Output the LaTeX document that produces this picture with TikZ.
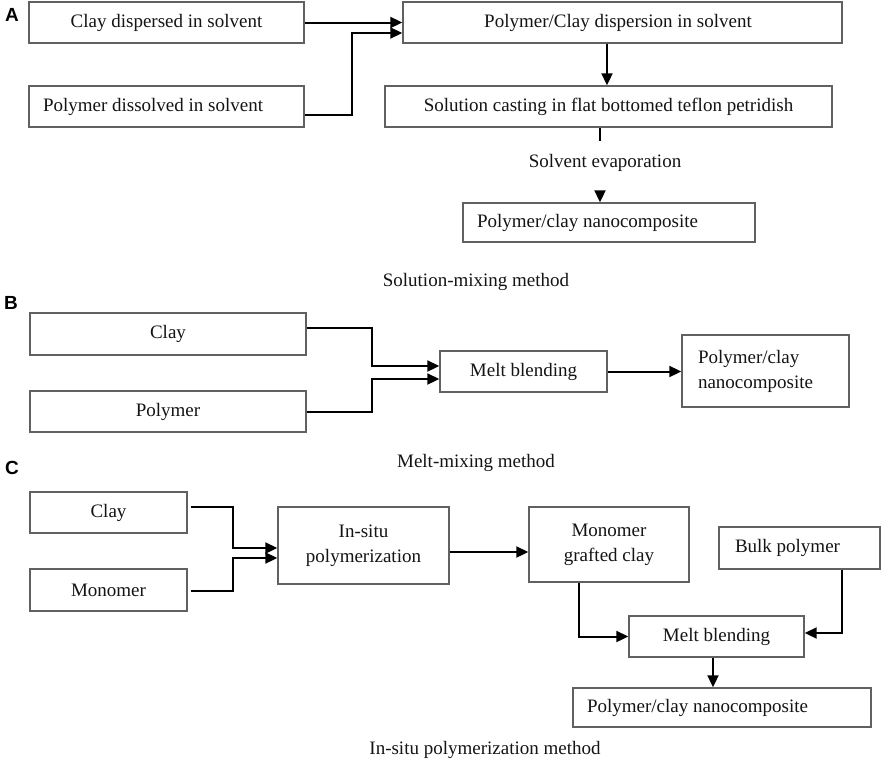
\documentclass[tikz,border=0pt]{standalone}
\usepackage{fontspec}
\setmainfont{Liberation Serif}
\newfontfamily\labfont{Liberation Sans}
\usetikzlibrary{arrows.meta,calc}
\newcommand{\mfs}{\fontsize{19}{25}\selectfont}
\tikzset{
  box/.style={draw=black!62, line width=1.4pt, fill=white, inner sep=0pt, font=\mfs, text=black!92, align=center},
  lbox/.style={box, align=flush left, inner xsep=#1},
  arr/.style={line width=2pt, -{Triangle[length=12pt,width=11pt]}},
  conn/.style={line width=2pt},
  plab/.style={font=\fontsize{19}{19}\selectfont\labfont\bfseries},
  captxt/.style={font=\mfs, text=black!92, inner sep=0pt},
}
\begin{document}
\begin{tikzpicture}[x=1pt,y=-1pt]
\useasboundingbox (0,0) rectangle (886,764);
% ---------- A ----------
\node[plab] (lA) at (12,15) {A};
\node[box, minimum width=275pt, minimum height=41pt] (a1) at (166.5,22.5) {Clay dispersed in solvent};
\node[lbox=14pt, text width=247pt, minimum height=41pt] (a2) at (166.5,106.5) {Polymer dissolved in solvent};
\node[box, minimum width=439pt, minimum height=41pt] (a3) at (622.5,22.5) {\hspace*{-9pt}Polymer/Clay dispersion in solvent};
\node[box, minimum width=447pt, minimum height=41pt] (a4) at (608.5,106.5) {Solution casting in flat bottomed teflon petridish};
\node[captxt] (se) at (605,163) {Solvent evaporation};
\node[lbox=14pt, text width=264pt, minimum height=39pt] (a5) at (609,222.5) {Polymer/clay nanocomposite};
\node[captxt] (cA) at (476,282) {Solution-mixing method};
\coordinate (e1) at (600,141);
\coordinate (e2) at (600,192);
\draw[arr] (a1.east) -- (a1.east -| a3.west);
\draw[arr] ($(a2.east)+(0,8.5)$) -| ($(a3.west)+(-50,10.5)$) -- ($(a3.west)+(0,10.5)$);
\draw[arr] ($(a3.south)+(-15.5,0)$) -- ($(a4.north)+(-1.5,0)$);
\draw[conn] ($(a4.south)+(-8.5,0)$) -- (e1);
\draw[arr] (e2) -- ($(a5.north)+(-9,0)$);
% ---------- B ----------
\node[plab] (lB) at (11,303) {B};
\node[box, minimum width=276pt, minimum height=42pt] (b1) at (168,334) {Clay};
\node[box, minimum width=276pt, minimum height=41pt] (b2) at (168,411.5) {Polymer};
\node[box, minimum width=167pt, minimum height=41pt] (b3) at (523.5,371.5) {Melt blending};
\node[lbox=16pt, text width=135pt, minimum height=72pt] (b4) at (765.5,371) {Polymer/clay\\nanocomposite};
\node[captxt] (cB) at (476,463) {Melt-mixing method};
\draw[arr] ($(b1.east)+(0,-6)$) -| ($(b3.west)+(-67,-5.5)$) -- ($(b3.west)+(0,-5.5)$);
\draw[arr] (b2.east) -| ($(b3.west)+(-67,7.5)$) -- ($(b3.west)+(0,7.5)$);
\draw[arr] (b3.east) -- (b3.east -| b4.west);
% ---------- C ----------
\node[plab] (lC) at (12,468) {C};
\node[box, minimum width=157pt, minimum height=41pt] (c1) at (108.5,512.5) {Clay};
\node[box, minimum width=157pt, minimum height=42pt] (c2) at (108.5,590) {Monomer};
\node[box, minimum width=171pt, minimum height=77pt] (c3) at (363.5,545.5) {In-situ\\polymerization};
\node[box, minimum width=160pt, minimum height=75pt] (c4) at (609,544.5) {Monomer\\grafted clay};
\node[lbox=16pt, text width=129pt, minimum height=42pt] (c5) at (799.5,548) {Bulk polymer};
\node[box, minimum width=175pt, minimum height=41pt] (c6) at (716.5,636.5) {Melt blending};
\node[lbox=14pt, text width=270pt, minimum height=39pt] (c7) at (722,707.5) {Polymer/clay nanocomposite};
\node[captxt] (cC) at (485,750) {In-situ polymerization method};
\draw[arr] ($(c1.east)+(3,-5.5)$) -| ($(c3.west)+(-44,2.5)$) -- ($(c3.west)+(0,2.5)$);
\draw[arr] ($(c2.east)+(3,1)$) -| ($(c3.west)+(-44,12.5)$) -- ($(c3.west)+(0,12.5)$);
\draw[arr] ($(c3.east)+(0,6.5)$) -- ($(c4.west)+(0,7.5)$);
\draw[arr] ($(c4.south)+(-30,0)$) |- (c6.west);
\draw[arr] ($(c5.south)+(42.5,0)$) |- ($(c6.east)+(0,-3.5)$);
\draw[arr] ($(c6.south)+(-3.5,0)$) -- ($(c7.north)+(-9,0)$);
\end{tikzpicture}
\end{document}
